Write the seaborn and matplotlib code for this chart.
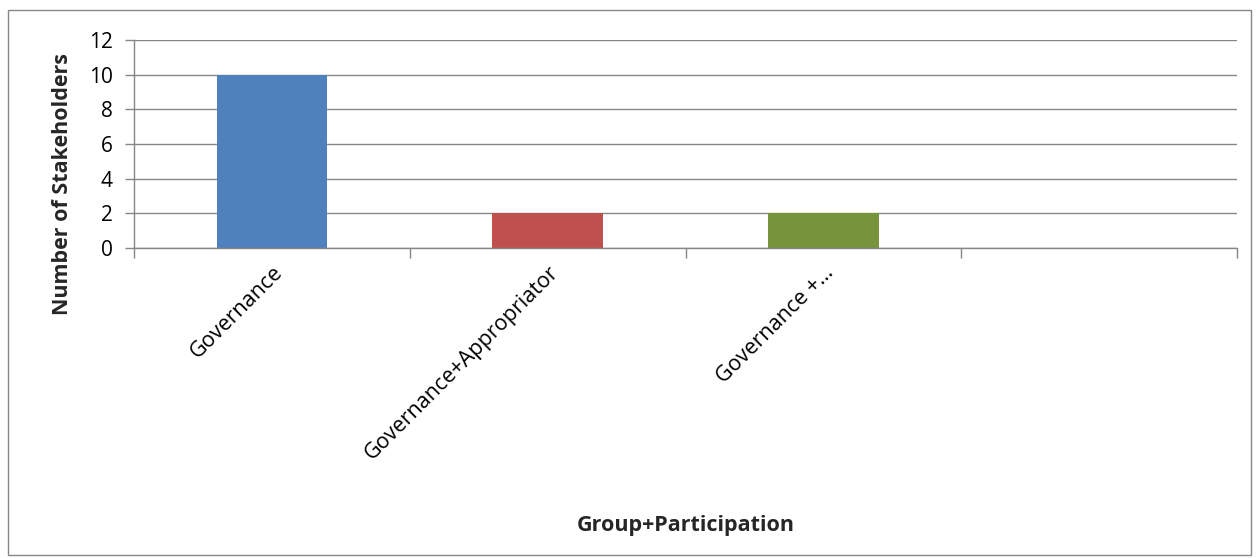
import matplotlib
matplotlib.use("Agg")
import matplotlib.pyplot as plt
import seaborn as sns
import pandas as pd
import numpy as np
from matplotlib.patches import Rectangle

categories = ["Governance", "Governance+Appropriator", "Governance +\u2026", " "]
stakeholders = [10, 2, 2, np.nan]
bar_colors = ["#4F81BD", "#C0504D", "#77933C", "#FFFFFF"]

sns.set_theme(style="white")
plt.rcParams['font.family'] = ['Open Sans', 'DejaVu Sans']

df = pd.DataFrame({"Group": categories, "Count": stakeholders})

fig = plt.figure(figsize=(12.58, 5.58), dpi=100)
ax = fig.add_axes([134 / 1258, 1 - 248 / 558, (1237 - 134) / 1258, (248 - 40) / 558])

sns.barplot(data=df, x="Group", y="Count", hue="Group", order=categories,
            palette=bar_colors, width=0.4, legend=False, saturation=1,
            linewidth=0, ax=ax)

grid_c = "#868686"
ax.set_ylim(0, 12)
ax.set_xlim(-0.5, len(categories) - 0.5)
ax.set_yticks(range(0, 13, 2))
ax.yaxis.grid(True, color=grid_c, linewidth=1)
ax.set_axisbelow(True)

# category boundaries get the tick marks, labels sit in the middle
ax.set_xticks(np.arange(-0.5, len(categories), 1.0))
ax.set_xticklabels([])
ax.set_xticks(range(len(categories)), minor=True)
ax.set_xticklabels(categories, minor=True, rotation=45, ha="right",
                   rotation_mode="anchor", fontsize=15.5)
ax.tick_params(axis="x", which="major", bottom=True, length=7, color=grid_c,
               width=1, direction="out")
ax.tick_params(axis="x", which="minor", bottom=True, length=0, pad=10)
ax.tick_params(axis="y", left=True, length=6.5, color=grid_c, width=1,
               direction="out", labelsize=15, pad=9)
ax.tick_params(axis="both", which="both", labelcolor="black")

for side in ["top", "right"]:
    ax.spines[side].set_visible(False)
for side in ["left", "bottom"]:
    ax.spines[side].set_color(grid_c)
    ax.spines[side].set_linewidth(1)

ax.set_ylabel("Number of Stakeholders", fontsize=15.5, fontweight="bold")
ax.yaxis.set_label_coords(-61 / 1103, (248 - 184) / 208)
ax.set_xlabel("Group+Participation", fontsize=15.5, fontweight="bold")
ax.xaxis.set_label_coords(0.5, -(515 - 248) / 208)

fig.patches.append(Rectangle((8 / 1258, 3 / 558), 1243 / 1258, 545 / 558,
                             transform=fig.transFigure, fill=False,
                             edgecolor=grid_c, linewidth=1))

fig.savefig("out.png", dpi=100, facecolor="white")
